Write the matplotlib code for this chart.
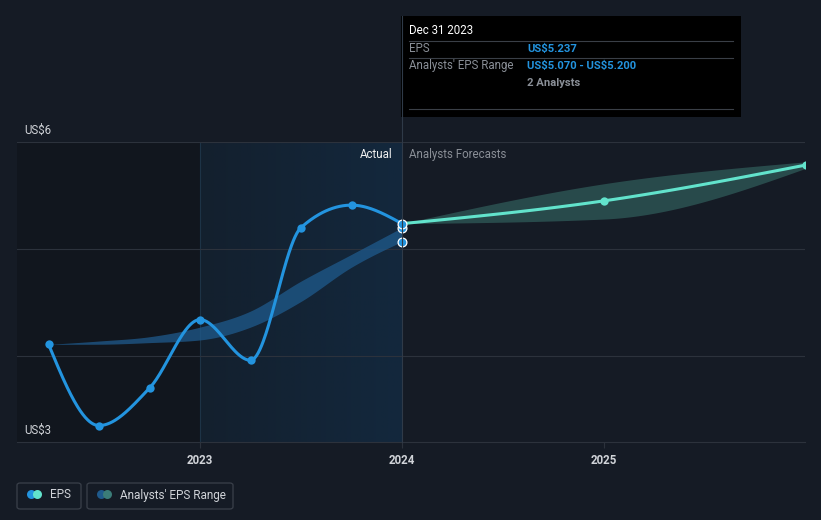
import numpy as np
import matplotlib
matplotlib.use("Agg")
import matplotlib.pyplot as plt
from matplotlib.patches import Rectangle, FancyBboxPatch, Ellipse
from matplotlib.lines import Line2D
from matplotlib.colors import LinearSegmentedColormap

plt.rcParams["font.family"] = ["Roboto", "DejaVu Sans"]
plt.rcParams["text.parse_math"] = False

## data
eps_dates = [2022.25, 2022.5, 2022.75, 2023.0, 2023.25, 2023.5, 2023.75, 2024.0]
eps_values = [4.11, 3.35, 3.70, 4.34, 3.96, 5.20, 5.41, 5.237]

past_range_low = [4.109, 4.11, 4.125, 4.15, 4.27, 4.51, 4.83, 5.07]
past_range_high = [4.109, 4.14, 4.18, 4.27, 4.42, 4.70, 4.95, 5.20]

fc_dates = [2024.0, 2025.0, 2026.0]
fc_values = [5.237, 5.45, 5.785]
fc_low = [5.237, 5.28, 5.755]
fc_high = [5.237, 5.61, 5.815]

year_ticks = [2023, 2024, 2025]
tooltip_date = "Dec 31 2023"
tooltip_eps = "US$5.237"
tooltip_range = "US$5.070 - US$5.200"
tooltip_analysts = "2 Analysts"

BG = "#151b25"
BLUE = "#2394df"
TEAL = "#62e3cc"
GRID = "#2c323c"
TXT = "#d0d3d8"
GRAY = "#8a8f97"

W, H = 821, 520
FS = 8.3


def px(x):
    return x / W


def py(y):
    return 1 - y / H


## monotone cubic (like d3 curveMonotoneX)
def monotone(x, y, n=60):
    x = np.asarray(x, float)
    y = np.asarray(y, float)
    h = np.diff(x)
    s = np.diff(y) / h
    m = np.zeros(len(x))
    for i in range(1, len(x) - 1):
        if s[i - 1] * s[i] <= 0:
            m[i] = 0
        else:
            p = (s[i - 1] * h[i] + s[i] * h[i - 1]) / (h[i - 1] + h[i])
            m[i] = (np.sign(s[i - 1]) + np.sign(s[i])) * min(abs(s[i - 1]), abs(s[i]), 0.5 * abs(p))
    m[0] = (3 * s[0] - m[1]) / 2 if len(x) > 2 else s[0]
    m[-1] = (3 * s[-1] - m[-2]) / 2 if len(x) > 2 else s[-1]
    xs, ys = [], []
    for i in range(len(x) - 1):
        t = np.linspace(0, 1, n)
        h00 = 2 * t**3 - 3 * t**2 + 1
        h10 = t**3 - 2 * t**2 + t
        h01 = -2 * t**3 + 3 * t**2
        h11 = t**3 - t**2
        xs.append(x[i] + t * h[i])
        ys.append(h00 * y[i] + h10 * h[i] * m[i] + h01 * y[i + 1] + h11 * h[i] * m[i + 1])
    return np.concatenate(xs), np.concatenate(ys)


fig = plt.figure(figsize=(W / 100, H / 100), dpi=100)
fig.patch.set_facecolor(BG)

ax = fig.add_axes([px(17), py(442), px(805) - px(17), py(142) - py(442)])
ax.set_facecolor(BG)
x0 = 2023 - (200 - 17) / 202
x1 = 2024 + (805 - 402) / 202
ax.set_xlim(x0, x1)
ax.set_ylim(6 - 300 / 107, 6.0)

# shaded past regions
ax.axvspan(x0, 2023, color="#11161e", zorder=0, lw=0)
grad = LinearSegmentedColormap.from_list("g", ["#13202e", "#13283d"])
ax.imshow(np.linspace(0, 1, 100).reshape(1, -1), cmap=grad, aspect="auto",
          extent=[2023, 2024, ax.get_ylim()[0], 6.0], zorder=0.5)
ax.axvline(2023, color="#1d3346", lw=0.8, zorder=1)

for g in [4, 5, 6]:
    ax.axhline(g, color=GRID, lw=0.8, zorder=1)

# bands
bx, bl = monotone(eps_dates, past_range_low)
_, bh = monotone(eps_dates, past_range_high)
ax.fill_between(bx, bl, bh, color="#1f5a8c", alpha=0.75, lw=0, zorder=2)
fx, fl = monotone(fc_dates, fc_low)
_, fh = monotone(fc_dates, fc_high)
ax.fill_between(fx, fl, fh, color="#2f5a58", alpha=0.75, lw=0, zorder=2)

# lines
ex, ey = monotone(eps_dates, eps_values)
ax.plot(ex, ey, color=BLUE, lw=2.2, zorder=3, solid_capstyle="round")
ax.scatter(eps_dates[:-1], eps_values[:-1], s=36, color=BLUE, zorder=4, lw=0)
lx, ly = monotone(fc_dates, fc_values)
ax.plot(lx, ly, color=TEAL, lw=2.2, zorder=3)
ax.scatter(fc_dates[1:], fc_values[1:], s=36, color=TEAL, zorder=4, lw=0)
ax.scatter([2024.0] * 3, [past_range_low[-1], past_range_high[-1], eps_values[-1]], s=40,
           color=BLUE, edgecolor="white", lw=0.9, zorder=5)

ax.set_xticks(year_ticks)
ax.set_xticklabels([str(y) for y in year_ticks], color=TXT, fontsize=FS, fontweight="bold")
ax.tick_params(axis="x", length=4, color=GRID, pad=5)
ax.set_yticks([])
for side in ["left", "right", "top"]:
    ax.spines[side].set_visible(False)
ax.spines["bottom"].set_color(GRID)

fig.text(px(24), py(430), "US$3", color=TXT, fontsize=FS, va="center", ha="left")
fig.text(px(24), py(130), "US$6", color=TXT, fontsize=FS, va="center", ha="left")
fig.text(px(392), py(154), "Actual", color="#f0f0f0", fontsize=FS, va="center", ha="right")
fig.text(px(409), py(154), "Analysts Forecasts", color=GRAY, fontsize=FS, va="center", ha="left")

# vertical divider and tooltip
fig.add_artist(Line2D([px(402), px(402)], [py(16), py(442)], color="#2f3a48", lw=0.8))
fig.add_artist(Rectangle((px(401), py(117)), px(741) - px(401), py(16) - py(117),
                         facecolor="black", edgecolor="none", transform=fig.transFigure))
for yy in [41, 58, 109]:
    fig.add_artist(Line2D([px(409), px(733)], [py(yy), py(yy)], color="#3a3f47", lw=0.8))
fig.text(px(409), py(31), tooltip_date, color="white", fontsize=FS, va="center")
fig.text(px(409), py(49), "EPS", color=GRAY, fontsize=FS, va="center")
fig.text(px(527), py(49), tooltip_eps, color=BLUE, fontsize=8.1, va="center", fontweight="bold")
fig.text(px(409), py(66), "Analysts' EPS Range", color=GRAY, fontsize=FS, va="center")
fig.text(px(527), py(66), tooltip_range, color=BLUE, fontsize=8.1, va="center", fontweight="bold")
fig.text(px(527), py(83), tooltip_analysts, color=GRAY, fontsize=8.1, va="center", fontweight="bold")


# legend
def legend_box(xl, xr, c1, c2, label, xt):
    fig.add_artist(FancyBboxPatch((px(xl), py(509)), px(xr) - px(xl), py(483) - py(509),
                                  boxstyle="round,pad=0,rounding_size=0.004",
                                  facecolor="none", edgecolor="#3a404a", lw=0.9,
                                  transform=fig.transFigure))
    for cx, c in [(xl + 14.5, c1), (xl + 20.5, c2)]:
        fig.add_artist(Ellipse((px(cx), py(494.5)), 9 / W, 9 / H, facecolor=c, edgecolor="none",
                               transform=fig.transFigure))
    fig.text(px(xt), py(495), label, color=TXT, fontsize=8.5, va="center")


legend_box(17, 81, BLUE, TEAL, "EPS", 50)
legend_box(87, 233, "#1f5a8c", "#3b7c78", "Analysts' EPS Range", 120)

plt.savefig("out.png", dpi=100, facecolor=BG)
